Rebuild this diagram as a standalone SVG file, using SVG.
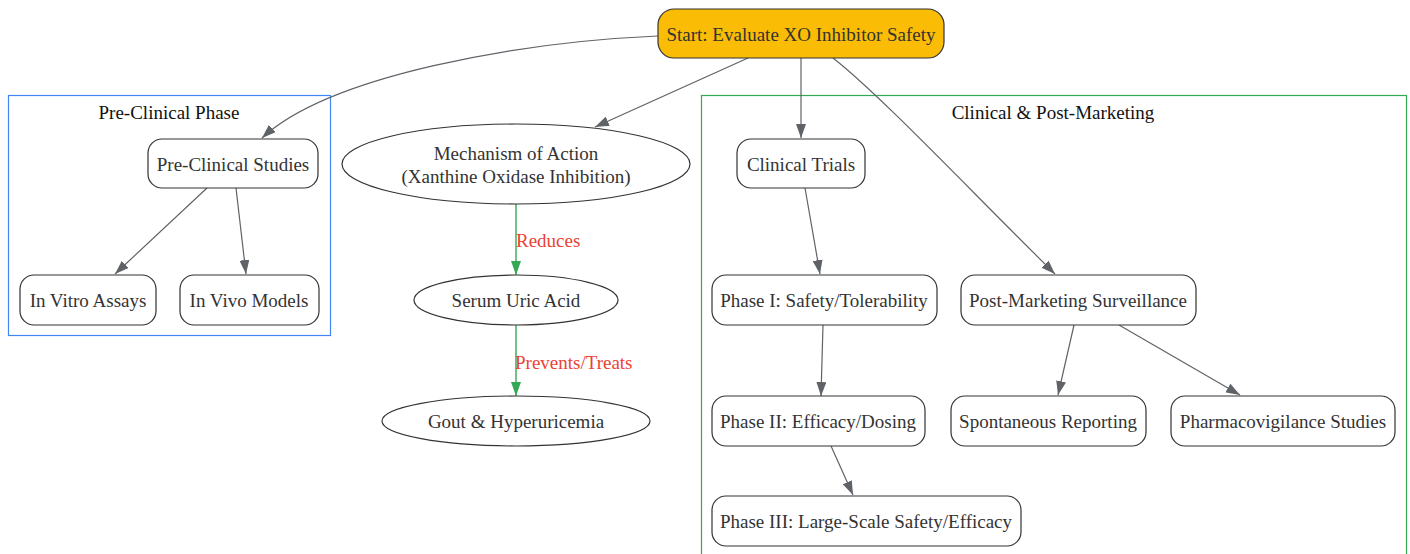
<svg xmlns="http://www.w3.org/2000/svg" width="1410" height="554" viewBox="0 0 1410 554">
<style>
text{font-family:"Liberation Serif","Times New Roman",serif;font-size:19px;fill:#333;text-anchor:middle;dominant-baseline:central}
.node{fill:#fff;stroke:#333;stroke-width:1.2}
.start{fill:#FBBC05;stroke:#333;stroke-width:1.2}
.edge{fill:none;stroke:#5f6368;stroke-width:1.2}
.green{fill:none;stroke:#34A853;stroke-width:1.4}
text.lbl{fill:#EA4335;text-anchor:start}
text.cltxt{fill:#111}
.cl{fill:none;stroke-width:1.2}
</style>
<defs>
<marker id="ag" viewBox="0 0 14 10" refX="14" refY="5" markerWidth="14" markerHeight="10" markerUnits="userSpaceOnUse" orient="auto"><path d="M0,0L14,5L0,10z" fill="#5f6368"/></marker>
<marker id="agr" viewBox="0 0 14 10" refX="14" refY="5" markerWidth="14" markerHeight="10" markerUnits="userSpaceOnUse" orient="auto"><path d="M0,0L14,5L0,10z" fill="#34A853"/></marker>
</defs>
<rect width="1410" height="554" fill="#fff"/>
<g id="cluster-preclinical">
<rect class="cl" x="8.5" y="95.5" width="322" height="240" stroke="#4285F4"/>
<text class="cltxt" x="169" y="112">Pre-Clinical Phase</text>
</g>
<g id="cluster-clinical">
<rect class="cl" x="701.5" y="95.5" width="705" height="470" stroke="#34A853"/>
<text class="cltxt" x="1053" y="112">Clinical &amp; Post-Marketing</text>
</g>
<g id="connectors">
<path class="edge" d="M658,36 C520,42 330,75 262,138" marker-end="url(#ag)"/>
<path class="edge" d="M748,58 L595,127" marker-end="url(#ag)"/>
<path class="edge" d="M801,58 L801,138" marker-end="url(#ag)"/>
<path class="edge" d="M833,58 C880,95 960,180 1055,274" marker-end="url(#ag)"/>
<path class="edge" d="M207,188 L115,274" marker-end="url(#ag)"/>
<path class="edge" d="M236,188 L246,274" marker-end="url(#ag)"/>
<path class="green" d="M516,204 L516,275" marker-end="url(#agr)"/>
<text class="lbl" x="516" y="240">Reduces</text>
<path class="green" d="M516,325 L516,396" marker-end="url(#agr)"/>
<text class="lbl" x="515" y="362">Prevents/Treats</text>
<path class="edge" d="M805,188 L820,274" marker-end="url(#ag)"/>
<path class="edge" d="M823,325 L821,396" marker-end="url(#ag)"/>
<path class="edge" d="M831,446 L853,495" marker-end="url(#ag)"/>
<path class="edge" d="M1074,325 L1058,395" marker-end="url(#ag)"/>
<path class="edge" d="M1119,325 L1240,395" marker-end="url(#ag)"/>
</g>
<g id="start"><rect class="start" x="658" y="9" width="286" height="49" rx="16"/><text x="801" y="34">Start: Evaluate XO Inhibitor Safety</text></g>
<g id="preclinical-studies"><rect class="node" x="148" y="139" width="170" height="49" rx="14"/><text x="233" y="164">Pre-Clinical Studies</text></g>
<g id="in-vitro"><rect class="node" x="20" y="275" width="136" height="50" rx="14"/><text x="88" y="300">In Vitro Assays</text></g>
<g id="in-vivo"><rect class="node" x="180" y="275" width="139" height="50" rx="14"/><text x="249" y="300">In Vivo Models</text></g>
<g id="mechanism"><ellipse class="node" cx="516" cy="164" rx="174" ry="40"/><text x="516" y="153">Mechanism of Action</text><text x="516" y="176">(Xanthine Oxidase Inhibition)</text></g>
<g id="serum"><ellipse class="node" cx="516" cy="300" rx="102" ry="25"/><text x="516" y="300">Serum Uric Acid</text></g>
<g id="gout"><ellipse class="node" cx="516" cy="421" rx="134" ry="25"/><text x="516" y="421">Gout &amp; Hyperuricemia</text></g>
<g id="clinical-trials"><rect class="node" x="737" y="139" width="128" height="49" rx="14"/><text x="801" y="164">Clinical Trials</text></g>
<g id="phase1"><rect class="node" x="712" y="275" width="225" height="50" rx="14"/><text x="824" y="300">Phase I: Safety/Tolerability</text></g>
<g id="pms"><rect class="node" x="961" y="275" width="235" height="50" rx="14"/><text x="1078" y="300">Post-Marketing Surveillance</text></g>
<g id="phase2"><rect class="node" x="712" y="396" width="213" height="50" rx="14"/><text x="818" y="421">Phase II: Efficacy/Dosing</text></g>
<g id="spontaneous"><rect class="node" x="951" y="396" width="195" height="50" rx="14"/><text x="1048" y="421">Spontaneous Reporting</text></g>
<g id="pharmacovigilance"><rect class="node" x="1171" y="396" width="224" height="50" rx="14"/><text x="1283" y="421">Pharmacovigilance Studies</text></g>
<g id="phase3"><rect class="node" x="712" y="496" width="309" height="50" rx="14"/><text x="866" y="521">Phase III: Large-Scale Safety/Efficacy</text></g>
</svg>
